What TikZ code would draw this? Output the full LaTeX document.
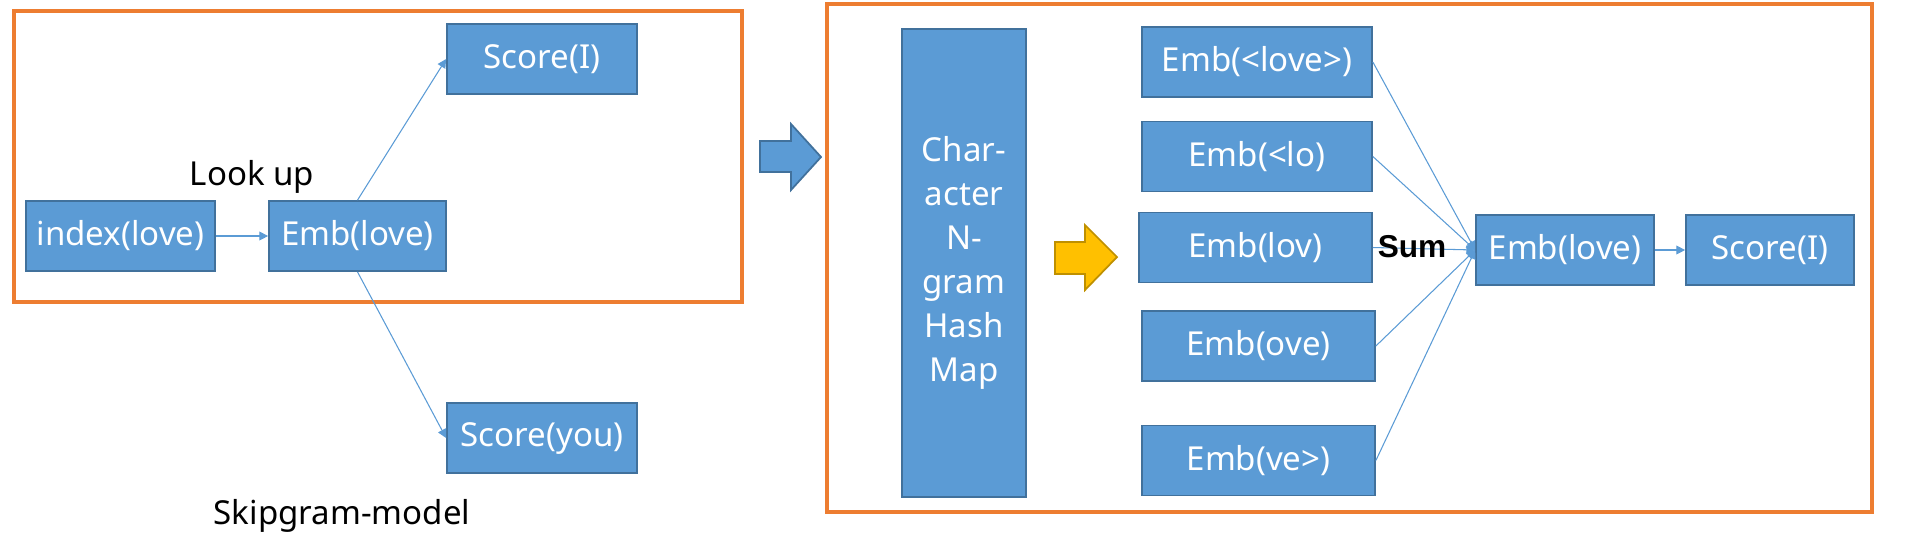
\documentclass[tikz,border=0pt]{standalone}
\usepackage{fontspec}
\setmainfont{Noto Sans}
\newfontfamily\sumfont{Liberation Sans}
\usetikzlibrary{arrows.meta, positioning}
\definecolor{boxblue}{HTML}{5B9BD5}
\definecolor{boxedge}{HTML}{41719C}
\definecolor{frameorange}{HTML}{ED7D31}
\definecolor{arrowgold}{HTML}{FFC000}
\definecolor{goldedge}{HTML}{BF9000}

\begin{document}
\begin{tikzpicture}[
    x=0.02cm, y=-0.02cm,
    >={Triangle[length=5pt, width=5pt]},
    font=\fontsize{18.8}{25}\selectfont,
    block/.style={draw=boxedge, fill=boxblue, line width=1pt, text=white,
        minimum height=1.4cm, inner sep=0pt},
    frame/.style={draw=frameorange, line width=2.3pt},
    link/.style={->, draw=boxblue, line width=0.6pt},
    fatarrow/.style={line width=1pt},
]
\useasboundingbox (0,0) rectangle (1913,539);

% Skipgram model (left)
\draw[frame] (14,11) rectangle (742,302);
\node[block, minimum width=3.78cm] (idx) at (120.5,236) {index(love)};
\node[block, minimum width=3.54cm] (emb) at (357.5,236) {Emb(love)};
\node[block, minimum width=3.8cm] (scoreI) at (542,59) {Score(I)};
\node[block, minimum width=3.8cm] (scoreyou) at (542,438) {Score(you)};
\node (lookup) at (252,177) {Look up};
\node (skipgram) at (342,516) {Skipgram-model};

\draw[link] (idx) -- (emb);
\draw[link] (emb.north) -- (scoreI.west);
\draw[link] (emb.south) -- (scoreyou.west);

% Arrow between the two models
\draw[fill=boxblue, draw=boxedge, fatarrow] (760,141) -- (791,141) -- (791,124)
    -- (821,157) -- (791,190) -- (791,172) -- (760,172) -- cycle;

% Subword model (right)
\draw[frame] (827,4) rectangle (1872,512);
\node[block, minimum width=2.48cm, minimum height=9.36cm, align=center] (hash)
    at (964,263) {Char-\\acter\\N-\\gram\\Hash\\Map};

\draw[fill=arrowgold, draw=goldedge, fatarrow] (1055,242) -- (1085,242) -- (1085,225)
    -- (1117,257) -- (1085,290) -- (1085,274) -- (1055,274) -- cycle;

\node[block, minimum width=4.6cm] (ng1) at (1257,62) {Emb(<love>)};
\node[block, minimum width=4.6cm] (ng2) at (1257,156.5) {Emb(<lo)};
\node[block, minimum width=4.66cm] (ng3) at (1255.5,247.5) {Emb(lov)};
\node[block, minimum width=4.66cm] (ng4) at (1258.5,346) {Emb(ove)};
\node[block, minimum width=4.66cm] (ng5) at (1258.5,460.5) {Emb(ve>)};

\node[block, minimum width=3.56cm] (wordemb) at (1565,250) {Emb(love)};
\node[block, minimum width=3.36cm] (wordscore) at (1770,250) {Score(I)};

\foreach \n in {ng1,ng2,ng3,ng4,ng5}
    \draw[link] (\n.east) -- (wordemb.west);
\draw[link] (wordemb) -- (wordscore);

\node[font=\sumfont\bfseries\fontsize{18}{20}\selectfont] (sum) at (1412,247) {Sum};

\end{tikzpicture}
\end{document}
